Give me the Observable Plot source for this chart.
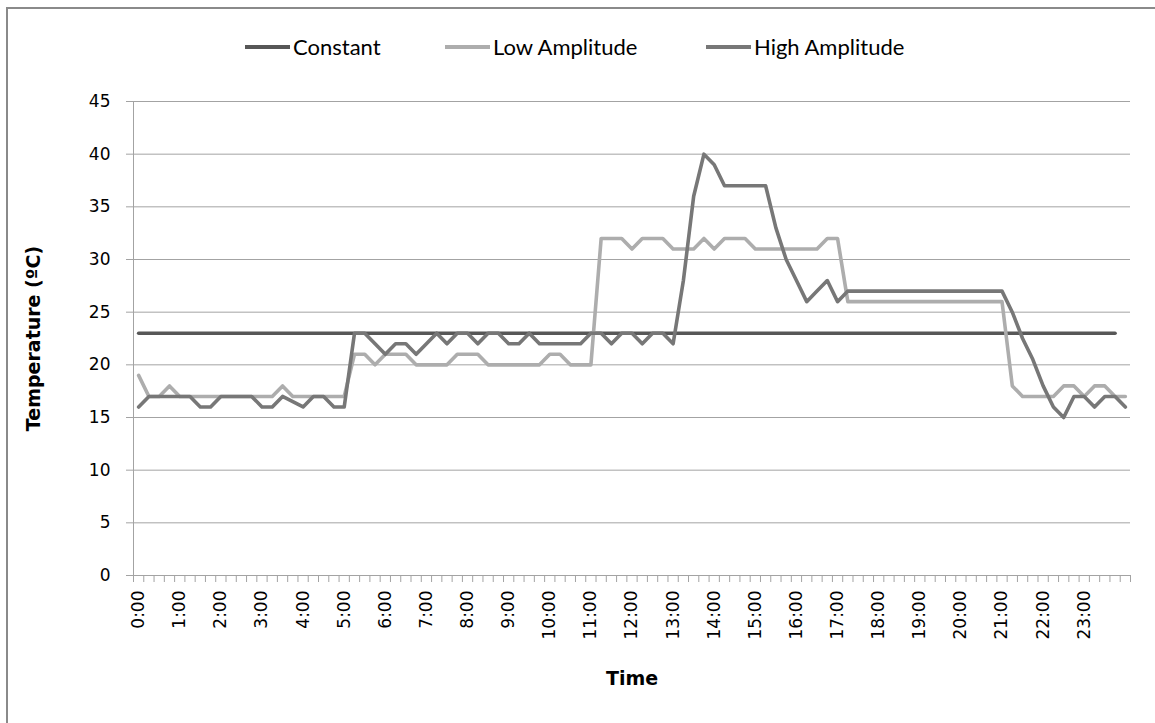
<!DOCTYPE html>
<html>
<head>
<meta charset="utf-8">
<script src="https://cdn.jsdelivr.net/npm/d3@7"></script>
<script src="https://cdn.jsdelivr.net/npm/@observablehq/plot@0.6"></script>
<style>
  html, body { margin: 0; padding: 0; background: #fff; }
  #wrap { position: relative; width: 1155px; height: 723px; overflow: hidden; background: #fff; }
  #frame { position: absolute; left: 6px; top: 7px; width: 1200px; height: 800px; border-left: 2px solid #8a8a8a; border-top: 2px solid #8a8a8a; }
  #legend { position: absolute; left: 0; top: 0; width: 1155px; height: 80px; font-family: Lato, "DejaVu Sans", sans-serif; font-size: 22px; color: #000; }
  .item { position: absolute; top: 33px; display: flex; align-items: center; white-space: nowrap; }
  .sw { width: 45px; height: 4px; margin-right: 3px; }
  #chart { position: absolute; left: 0; top: 80px; }
</style>
</head>
<body>
<div id="wrap">
  <div id="frame"></div>
  <div id="legend"></div>
  <div id="chart"></div>
</div>
<script>
// Categories: 15-minute steps from 0:00 to 24:00
const times = [];
for (let h = 0; h <= 24; h++) {
  for (const m of ["00", "15", "30", "45"]) {
    if (h === 24 && m !== "00") break;
    times.push(`${h}:${m}`);
  }
}
const seriesNames = ["Constant", "Low Amplitude", "High Amplitude"];
const seriesColors = ["#575757", "#adadad", "#777777"];

const constant = [
  23,23,23,23,23,23,23,23,23,23,23,23,23,23,23,23,23,23,23,23,23,23,23,23,
  23,23,23,23,23,23,23,23,23,23,23,23,23,23,23,23,23,23,23,23,23,23,23,23,
  23,23,23,23,23,23,23,23,23,23,23,23,23,23,23,23,23,23,23,23,23,23,23,23,
  23,23,23,23,23,23,23,23,23,23,23,23,23,23,23,23,23,23,23,23,23,23,23,23
];
const lowAmplitude = [
  19,17,17,18,17,17,17,17,17,17,17,17,17,17,18,17,17,17,17,17,17,
  21,21,20,21,21,21,20,20,20,20,21,21,21,20,20,20,20,20,20,21,21,20,20,20,
  32,32,32,31,32,32,32,31,31,31,32,31,32,32,32,31,31,31,31,31,31,31,32,32,
  26,26,26,26,26,26,26,26,26,26,26,26,26,26,26,26,
  18,17,17,17,17,18,18,17,18,18,17,17
];
const highAmplitude = [
  16,17,17,17,17,17,16,16,17,17,17,17,16,16,17,16.5,16,17,17,16,16,
  23,23,22,21,22,22,21,22,23,22,23,23,22,23,23,22,22,23,22,22,22,22,22,23,
  23,22,23,23,22,23,23,22,28,36,40,39,37,37,37,37,37,33,30,28,26,27,28,26,
  27,27,27,27,27,27,27,27,27,27,27,27,27,27,27,27,
  25,22.5,20.5,18,16,15,17,17,16,17,17,16
];
const yTicks = [0, 5, 10, 15, 20, 25, 30, 35, 40, 45];
const xLabelIndex = times.map((t, i) => i).filter(i => times[i].endsWith(":00") && i < 96);
const xBoundaries = times.map((t, i) => i - 0.5).concat([times.length - 0.5]);

// Legend
const legendLeft = [245, 445, 706];
const legend = document.getElementById("legend");
seriesNames.forEach((name, k) => {
  const it = document.createElement("div");
  it.className = "item";
  it.style.left = legendLeft[k] + "px";
  it.innerHTML = `<span class="sw" style="background:${seriesColors[k]}"></span><span>${name}</span>`;
  legend.appendChild(it);
});

const chart = Plot.plot({
  width: 1155,
  height: 643,
  marginLeft: 133,
  marginRight: 25,
  marginTop: 21,
  marginBottom: 148,
  style: { fontFamily: "DejaVu Sans, sans-serif", fontSize: "17px", color: "#000", background: "transparent" },
  x: { type: "linear", domain: [-0.5, times.length - 0.5], axis: null },
  y: { domain: [0, 45], axis: null },
  marks: [
    Plot.gridY(yTicks, { stroke: "#a3a3a3", strokeOpacity: 1, strokeWidth: 1 }),
    Plot.axisY(yTicks, { tickSize: 7, tickPadding: 16, stroke: "#a3a3a3", fill: "#000", label: null }),
    Plot.ruleX([-0.5], { stroke: "#a3a3a3" }),
    Plot.ruleY([0], { stroke: "#a3a3a3" }),
    Plot.axisX(xBoundaries, { tickSize: 7, tickFormat: () => "", stroke: "#a3a3a3", label: null }),
    Plot.axisX(xLabelIndex, { tickSize: 0, tickPadding: 15, tickRotate: -90, tickFormat: i => times[i], fill: "#000", label: null }),
    Plot.lineY(constant, { stroke: seriesColors[0], strokeWidth: 3.6, strokeLinejoin: "round" }),
    Plot.lineY(lowAmplitude, { stroke: seriesColors[1], strokeWidth: 3.6, strokeLinejoin: "round" }),
    Plot.lineY(highAmplitude, { stroke: seriesColors[2], strokeWidth: 3.6, strokeLinejoin: "round" }),
    Plot.text(["Temperature (ºC)"], { frameAnchor: "left", dx: -100, rotate: -90, textAnchor: "middle", fontWeight: "bold", fontSize: 19, fill: "#000" }),
    Plot.text(["Time"], { frameAnchor: "bottom", dy: 109, fontWeight: "bold", fontSize: 19, fill: "#000" })
  ]
});
document.getElementById("chart").appendChild(chart);
</script>
</body>
</html>
